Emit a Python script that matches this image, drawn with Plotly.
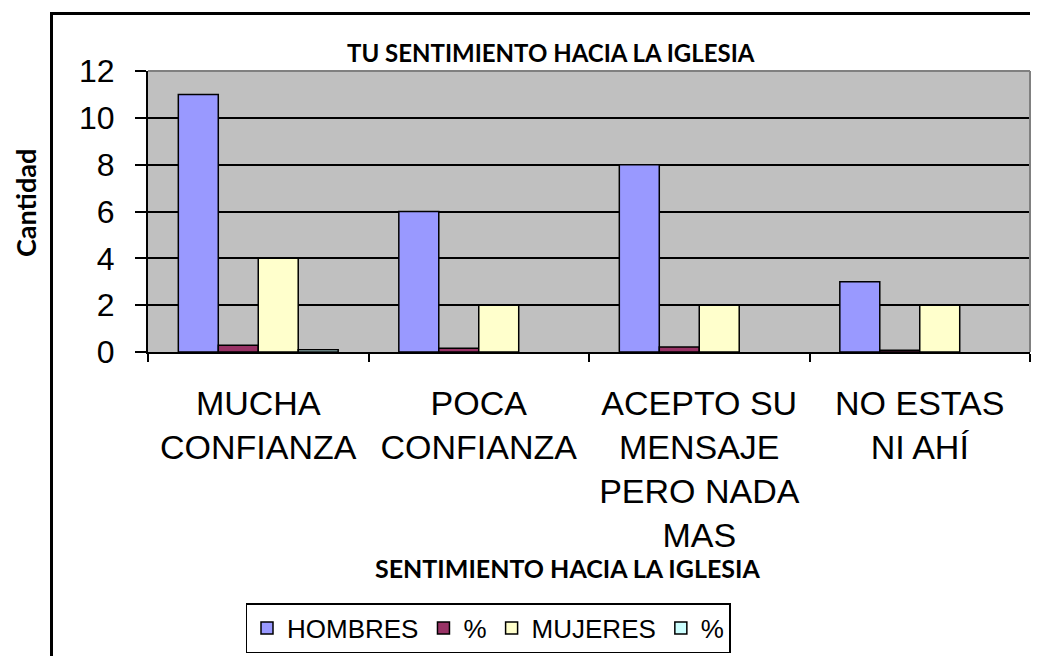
import plotly.graph_objects as go

categories = ["MUCHA<br>CONFIANZA", "POCA<br>CONFIANZA",
              "ACEPTO SU<br>MENSAJE<br>PERO NADA<br>MAS", "NO ESTAS<br>NI AHÍ"]
hombres = [11, 6, 8, 3]
hombres_pct = [0.29, 0.16, 0.21, 0.08]
mujeres = [4, 2, 2, 2]
mujeres_pct = [0.1, None, None, None]

series_names = ["HOMBRES", "%", "MUJERES", "%"]
series_values = [hombres, hombres_pct, mujeres, mujeres_pct]
series_colors = ["#9999FF", "#993366", "#FFFFCC", "#CCFFFF"]

title_text = "TU SENTIMIENTO HACIA LA IGLESIA"
xaxis_title = "SENTIMIENTO HACIA LA IGLESIA"
yaxis_title = "Cantidad"

# page body has an 8px margin; figure sized to fit inside the window
OFF = 8
W, H = 1039 - 2 * OFF, 664 - 2 * OFF
PL, PT, PR, PB = 148, 71, 1030, 352          # plot area in window pixels
L, T = PL - OFF, PT - OFF
R = W - (PR - OFF)
B = H - (PB - OFF)
pw, ph = W - L - R, H - T - B

def px_x(x):  # window pixel -> paper
    return (x - PL) / pw

def px_y(y):
    return (PB - y) / ph

fig = go.Figure()
for name, vals, col in zip(series_names, series_values, series_colors):
    fig.add_trace(go.Bar(
        x=categories, y=vals, name=name,
        marker=dict(color=col, line=dict(color="black", width=1.5)),
    ))

bold = "Lato, 'Open Sans', sans-serif"
arial = "'Liberation Sans', Arial, sans-serif"

fig.update_layout(
    width=W, height=H,
    margin=dict(l=L, r=R, t=T, b=B, pad=0),
    paper_bgcolor="white",
    plot_bgcolor="#C0C0C0",
    barmode="group",
    bargap=0.275,
    bargroupgap=0,
    font=dict(family=arial, size=32, color="black"),
    showlegend=True,
    legend=dict(
        orientation="h",
        x=px_x(488), xanchor="center",
        y=px_y(603), yanchor="top",
        bordercolor="black", borderwidth=1.5,
        font=dict(family=arial, size=26, color="black"),
        itemwidth=30,
        tracegroupgap=0,
    ),
    xaxis=dict(
        showline=True, linecolor="black", linewidth=2,
        ticks="outside", tickson="boundaries", ticklen=8, tickcolor="black", tickwidth=1.5,
        tickfont=dict(family=arial, size=34, color="black"),
        ticklabelstandoff=20,
        showgrid=False,
    ),
    yaxis=dict(
        range=[0, 12], dtick=2,
        showline=True, linecolor="black", linewidth=2,
        ticks="outside", ticklen=11, tickcolor="black", tickwidth=2,
        tickfont=dict(family=arial, size=32, color="black"),
        ticklabelstandoff=14,
        showgrid=True, gridcolor="black", gridwidth=1.5,
        zeroline=False,
    ),
    annotations=[
        dict(text=f"<b>{title_text}</b>", x=px_x(551), y=px_y(52), xref="paper", yref="paper",
             showarrow=False, font=dict(family=bold, size=24, color="black"),
             xanchor="center", yanchor="middle"),
        dict(text=f"<b>{xaxis_title}</b>", x=px_x(567), y=px_y(568), xref="paper", yref="paper",
             showarrow=False, font=dict(family=bold, size=25, color="black"),
             xanchor="center", yanchor="middle"),
        dict(text=f"<b>{yaxis_title}</b>", x=px_x(25), y=px_y(203), xref="paper", yref="paper",
             showarrow=False, font=dict(family=bold, size=27, color="black"),
             textangle=-90, xanchor="center", yanchor="middle"),
    ],
    shapes=[
        # outer chart border: left and top edges (the rest lies beyond the window)
        dict(type="line", xref="paper", yref="paper",
             x0=px_x(51.5), x1=px_x(51.5), y0=px_y(12), y1=px_y(660),
             line=dict(color="black", width=3), layer="above"),
        dict(type="line", xref="paper", yref="paper",
             x0=px_x(50), x1=px_x(1030), y0=px_y(13.5), y1=px_y(13.5),
             line=dict(color="black", width=3), layer="above"),
        # plot area top and right border (gray)
        dict(type="line", xref="paper", yref="paper", x0=0, x1=1, y0=1, y1=1,
             line=dict(color="#808080", width=2), layer="above"),
        dict(type="line", xref="paper", yref="paper", x0=1, x1=1, y0=0, y1=1,
             line=dict(color="#808080", width=2), layer="above"),
    ],
)

fig.write_html("out.html")
